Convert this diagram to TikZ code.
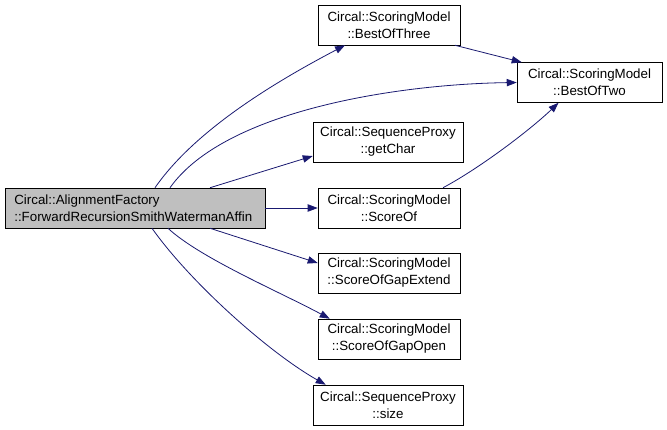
\documentclass[tikz,border=0pt]{standalone}
\usepackage{fontspec}
\setmainfont{Liberation Sans}
\usetikzlibrary{arrows.meta}
\definecolor{edgeblue}{HTML}{191970}
\definecolor{maingray}{HTML}{BFBFBF}

\begin{document}
\begin{tikzpicture}[x=0.75pt, y=-0.75pt,
    fn/.style={draw=black, fill=white, align=center, inner sep=0pt,
        minimum height=30pt, font=\fontsize{10}{12.75}\selectfont},
    call/.style={draw=edgeblue, semithick, -{Triangle[length=7.5pt,width=5.5pt]}}]
    \useasboundingbox (0,0) rectangle (667,429);
    \node[fn, fill=maingray, align=left, text width=181pt, inner xsep=7pt] (main) at (135,208)
        {Circal::AlignmentFactory\\::ForwardRecursionSmithWatermanAffin};
    \node[fn, minimum width=106.5pt] (bot3) at (389,25) {Circal::ScoringModel\\::BestOfThree};
    \node[fn, minimum width=108.75pt] (bot2) at (589.5,82.5) {Circal::ScoringModel\\::BestOfTwo};
    \node[fn, minimum width=112.5pt] (getchar) at (388,142) {Circal::SequenceProxy\\::getChar};
    \node[fn, minimum width=106.5pt] (scoreof) at (389,208) {Circal::ScoringModel\\::ScoreOf};
    \node[fn, minimum width=106.5pt] (gapext) at (389,273) {Circal::ScoringModel\\::ScoreOfGapExtend};
    \node[fn, minimum width=106.5pt] (gapopen) at (389,339) {Circal::ScoringModel\\::ScoreOfGapOpen};
    \node[fn, minimum width=112.5pt] (size) at (388,405) {Circal::SequenceProxy\\::size};

    \draw[call] ([xshift=15pt]main.north) .. controls (195,130) and (275,82) .. ([xshift=-33pt]bot3.south);
    \draw[call] ([xshift=26.25pt]main.north) .. controls (225,110) and (400,84) .. (bot2.west);
    \draw[call] ([xshift=-4pt]bot3.south east) -- ([xshift=3.75pt]bot2.north west);
    \draw[call] ([xshift=40.5pt]scoreof.north) .. controls (480,168) and (530,130) .. ([xshift=-23.25pt]bot2.south);
    \draw[call] ([xshift=56.25pt]main.north) -- ([yshift=-10.5pt]getchar.west);
    \draw[call] (main.east) -- (scoreof.west);
    \draw[call] ([xshift=56.25pt]main.south) -- ([yshift=7.5pt]gapext.west);
    \draw[call] ([xshift=24.75pt]main.south) .. controls (200,258) and (280,292) .. ([xshift=9pt]gapopen.north west);
    \draw[call] ([xshift=12.75pt]main.south) .. controls (190,282) and (268,352) .. ([xshift=9.75pt]size.north west);
\end{tikzpicture}
\end{document}
